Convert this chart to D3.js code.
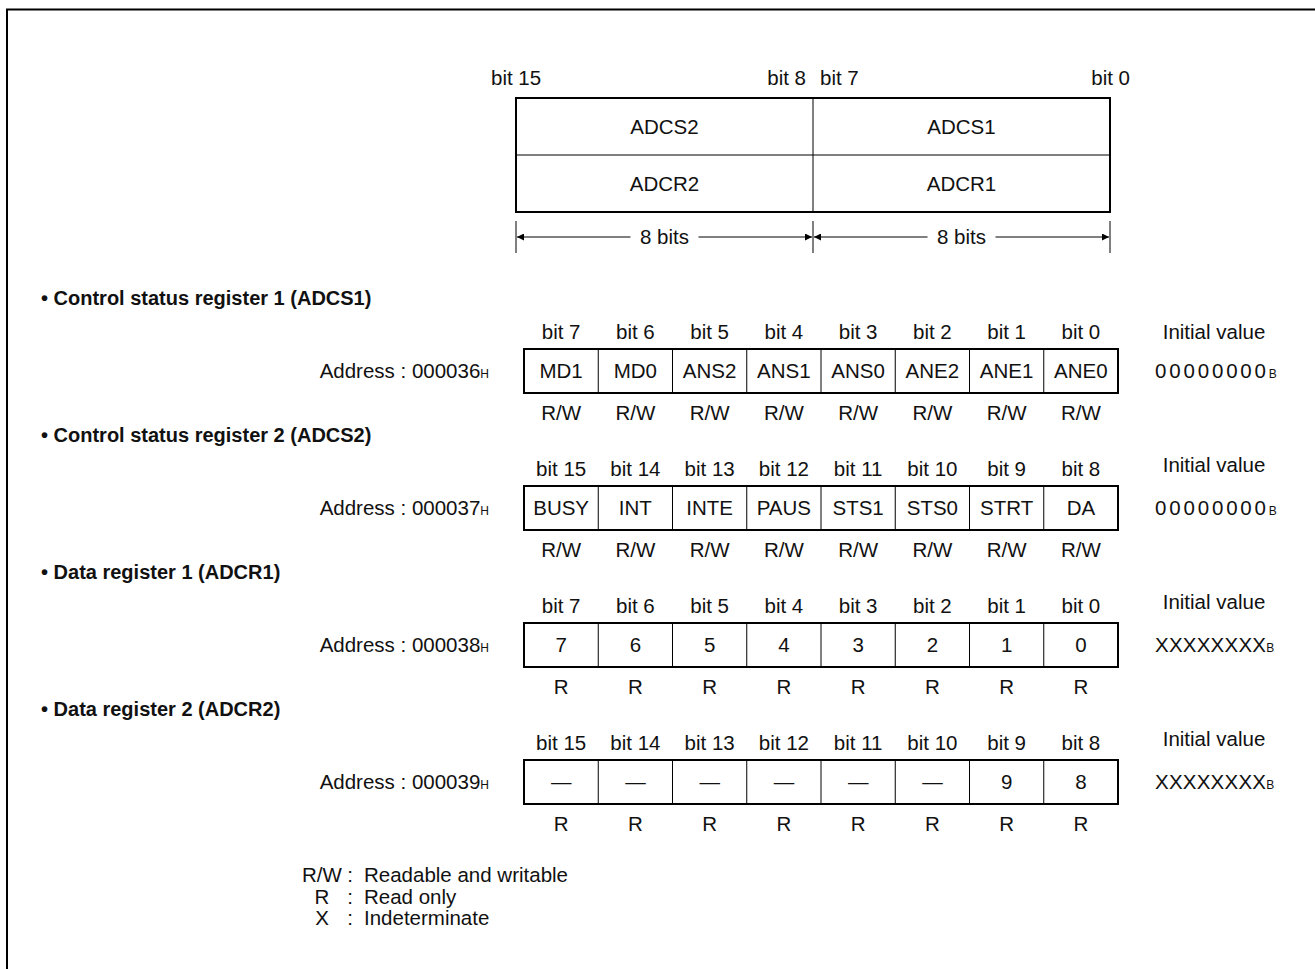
<!DOCTYPE html>
<html>
<head>
<meta charset="utf-8">
<script src="https://cdn.jsdelivr.net/npm/d3@7"></script>
<style>
    body { margin: 0; background: #fff; }
    svg text { font-family: "Liberation Sans", Arial, sans-serif; fill: #111; }
</style>
</head>
<body>
<svg id="chart" width="1315" height="969"></svg>
<script>
// overview of the 16-bit block
const halves = ["high", "low"];
const overviewRows = [["ADCS2", "ADCS1"], ["ADCR2", "ADCR1"]];
const halfEdgeLabels = [["bit 15", "bit 8"], ["bit 7", "bit 0"]];
const halfWidthLabel = "8 bits";

// register detail tables
const regTitles = [
    "Control status register 1 (ADCS1)",
    "Control status register 2 (ADCS2)",
    "Data register 1 (ADCR1)",
    "Data register 2 (ADCR2)"
];
const regAddress = ["000036", "000037", "000038", "000039"];
const regBits = [
    ["bit 7", "bit 6", "bit 5", "bit 4", "bit 3", "bit 2", "bit 1", "bit 0"],
    ["bit 15", "bit 14", "bit 13", "bit 12", "bit 11", "bit 10", "bit 9", "bit 8"],
    ["bit 7", "bit 6", "bit 5", "bit 4", "bit 3", "bit 2", "bit 1", "bit 0"],
    ["bit 15", "bit 14", "bit 13", "bit 12", "bit 11", "bit 10", "bit 9", "bit 8"]
];
const regFields = [
    ["MD1", "MD0", "ANS2", "ANS1", "ANS0", "ANE2", "ANE1", "ANE0"],
    ["BUSY", "INT", "INTE", "PAUS", "STS1", "STS0", "STRT", "DA"],
    ["7", "6", "5", "4", "3", "2", "1", "0"],
    ["\u2014", "\u2014", "\u2014", "\u2014", "\u2014", "\u2014", "9", "8"]
];
const regAccess = [
    ["R/W", "R/W", "R/W", "R/W", "R/W", "R/W", "R/W", "R/W"],
    ["R/W", "R/W", "R/W", "R/W", "R/W", "R/W", "R/W", "R/W"],
    ["R", "R", "R", "R", "R", "R", "R", "R"],
    ["R", "R", "R", "R", "R", "R", "R", "R"]
];
const regInitial = ["00000000", "00000000", "XXXXXXXX", "XXXXXXXX"];

const legendKeys = ["R/W", "R", "X"];
const legendTexts = ["Readable and writable", "Read only", "Indeterminate"];

const svg = d3.select("#chart");
const FS = 20.5;

// page frame
svg.append("path")
    .attr("d", "M7,975 V9.5 H1320")
    .attr("fill", "none")
    .attr("stroke", "#000")
    .attr("stroke-width", 2);

// arrow head
svg.append("defs").append("marker")
    .attr("id", "arrow")
    .attr("viewBox", "0 0 10 10")
    .attr("refX", 10).attr("refY", 5)
    .attr("markerWidth", 14).attr("markerHeight", 7)
    .attr("markerUnits", "userSpaceOnUse")
    .attr("orient", "auto-start-reverse")
    .append("path")
    .attr("d", "M0,0 L10,5 L0,10 Z")
    .attr("fill", "#000");

// ---------- overview ----------
const ox = d3.scaleBand().domain(halves).range([516, 1110]);
const oy = d3.scaleBand().domain(d3.range(overviewRows.length)).range([98, 212]);
const ov = svg.append("g");

overviewRows.forEach((row, r) => {
    row.forEach((name, i) => {
        ov.append("text")
            .attr("x", ox(halves[i]) + ox.bandwidth() / 2)
            .attr("y", oy(r) + oy.bandwidth() / 2)
            .attr("dy", "0.36em")
            .attr("text-anchor", "middle")
            .style("font-size", FS + "px")
            .text(name);
    });
});
// inner lines
ov.append("line")
    .attr("x1", ox.range()[0]).attr("x2", ox.range()[1])
    .attr("y1", oy(1)).attr("y2", oy(1))
    .attr("stroke", "#000").attr("stroke-width", 1);
ov.append("line")
    .attr("x1", ox("low")).attr("x2", ox("low"))
    .attr("y1", oy.range()[0]).attr("y2", oy.range()[1])
    .attr("stroke", "#000").attr("stroke-width", 1);
ov.append("rect")
    .attr("x", ox.range()[0]).attr("y", oy.range()[0])
    .attr("width", ox.range()[1] - ox.range()[0])
    .attr("height", oy.range()[1] - oy.range()[0])
    .attr("fill", "none").attr("stroke", "#000").attr("stroke-width", 2);

// edge labels
halves.forEach((h, i) => {
    ov.append("text")
        .attr("x", ox(h) + (i === 0 ? -25 : 7))
        .attr("y", 85)
        .style("font-size", FS + "px")
        .text(halfEdgeLabels[i][0]);
    ov.append("text")
        .attr("x", ox(h) + ox.bandwidth() + (i === 0 ? -7 : 20))
        .attr("y", 85)
        .attr("text-anchor", "end")
        .style("font-size", FS + "px")
        .text(halfEdgeLabels[i][1]);
});

// width arrows
const ay = 237;
[ox.range()[0], ox("low"), ox.range()[1]].forEach(x => {
    ov.append("line")
        .attr("x1", x).attr("x2", x)
        .attr("y1", 221).attr("y2", 253)
        .attr("stroke", "#000").attr("stroke-width", 1);
});
halves.forEach(h => {
    const x0 = ox(h), x1 = ox(h) + ox.bandwidth();
    const cx = (x0 + x1) / 2;
    ov.append("line")
        .attr("x1", x0 + 1).attr("x2", cx - 34)
        .attr("y1", ay).attr("y2", ay)
        .attr("stroke", "#000").attr("stroke-width", 1)
        .attr("marker-start", "url(#arrow)");
    ov.append("line")
        .attr("x1", cx + 34).attr("x2", x1 - 1)
        .attr("y1", ay).attr("y2", ay)
        .attr("stroke", "#000").attr("stroke-width", 1)
        .attr("marker-end", "url(#arrow)");
    ov.append("text")
        .attr("x", cx).attr("y", ay).attr("dy", "0.36em")
        .attr("text-anchor", "middle")
        .style("font-size", FS + "px")
        .text(halfWidthLabel);
});

// ---------- register tables ----------
const ry = d3.scaleLinear().domain([0, 3]).range([349, 760]);
const boxH = 44;

regTitles.forEach((title, r) => {
    const top = ry(r);
    const g = svg.append("g");
    const bx = d3.scaleBand().domain(regBits[r]).range([524, 1118]);

    g.append("text")
        .attr("x", 41).attr("y", top - 44)
        .style("font-size", "20px")
        .style("font-weight", "bold")
        .text("\u2022 " + title);

    regBits[r].forEach((b, i) => {
        const cx = bx(b) + bx.bandwidth() / 2;
        g.append("text")
            .attr("x", cx).attr("y", top - 10)
            .attr("text-anchor", "middle")
            .style("font-size", FS + "px")
            .text(b);
        g.append("text")
            .attr("x", cx).attr("y", top + boxH / 2).attr("dy", "0.36em")
            .attr("text-anchor", "middle")
            .style("font-size", FS + "px")
            .text(regFields[r][i]);
        g.append("text")
            .attr("x", cx).attr("y", top + boxH + 27)
            .attr("text-anchor", "middle")
            .style("font-size", FS + "px")
            .text(regAccess[r][i]);
        if (i > 0) {
            g.append("line")
                .attr("x1", bx(b)).attr("x2", bx(b))
                .attr("y1", top).attr("y2", top + boxH)
                .attr("stroke", "#000").attr("stroke-width", 1);
        }
    });
    g.append("rect")
        .attr("x", bx.range()[0]).attr("y", top)
        .attr("width", bx.range()[1] - bx.range()[0])
        .attr("height", boxH)
        .attr("fill", "none").attr("stroke", "#000").attr("stroke-width", 2);

    // address
    const addr = g.append("text")
        .attr("x", 489).attr("y", top + boxH / 2).attr("dy", "0.36em")
        .attr("text-anchor", "end")
        .style("font-size", FS + "px");
    addr.append("tspan").text("Address : " + regAddress[r]);
    addr.append("tspan").style("font-size", "12px").text("H");

    // initial value
    g.append("text")
        .attr("x", 1214).attr("y", top - (r === 0 ? 10 : 14))
        .attr("text-anchor", "middle")
        .style("font-size", FS + "px")
        .text("Initial value");
    const iv = g.append("text")
        .attr("x", 1155).attr("y", top + boxH / 2).attr("dy", "0.36em")
        .style("font-size", FS + "px");
    iv.append("tspan")
        .attr("textLength", 111)
        .attr("lengthAdjust", "spacing")
        .text(regInitial[r]);
    iv.append("tspan").style("font-size", "12px").text("B");
});

// ---------- legend ----------
const ly = d3.scaleLinear().domain([0, 2]).range([882, 925]);
legendKeys.forEach((k, i) => {
    svg.append("text")
        .attr("x", 322).attr("y", ly(i))
        .attr("text-anchor", "middle")
        .style("font-size", FS + "px")
        .text(k);
    svg.append("text")
        .attr("x", 350).attr("y", ly(i))
        .attr("text-anchor", "middle")
        .style("font-size", FS + "px")
        .text(":");
    svg.append("text")
        .attr("x", 364).attr("y", ly(i))
        .style("font-size", FS + "px")
        .text(legendTexts[i]);
});
</script>
</body>
</html>
